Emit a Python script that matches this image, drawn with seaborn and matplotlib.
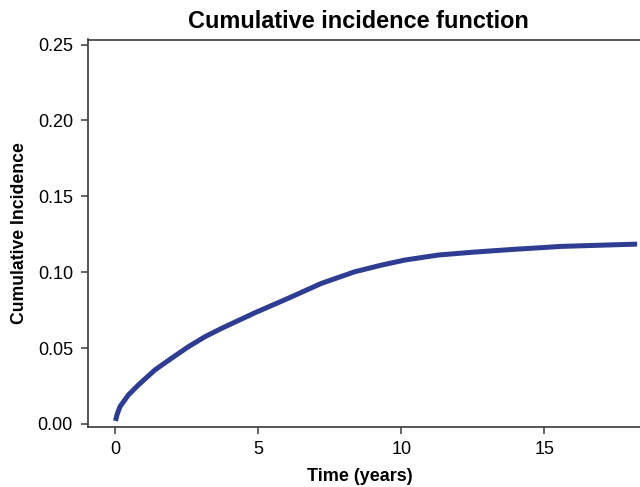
import seaborn as sns
import matplotlib
matplotlib.use("Agg")
import matplotlib.pyplot as plt
import pandas as pd

# values
time_years = [0.0, 0.06, 0.157, 0.45, 0.80, 1.38, 1.96, 2.55, 3.13, 3.71, 4.29, 4.88,
              6.04, 7.21, 8.37, 9.31, 10.12, 11.29, 12.45, 13.27, 13.9, 15.6, 18.24]
cum_incidence = [0.002, 0.0065, 0.0114, 0.0191, 0.0257, 0.0356, 0.0433, 0.0509, 0.0575, 0.0630, 0.0681, 0.0733,
                 0.0828, 0.0927, 0.1003, 0.1047, 0.1080, 0.1113, 0.1131, 0.1142, 0.1150, 0.1170, 0.1185]
y_ticks = [0.00, 0.05, 0.10, 0.15, 0.20, 0.25]
x_ticks = [0, 5, 10, 15]

sns.set_theme(style="ticks")
plt.rcParams['font.family'] = ['Liberation Sans', 'DejaVu Sans']
plt.rcParams['text.color'] = 'black'

df = pd.DataFrame({'Time': time_years, 'CIF': cum_incidence})

fig = plt.figure(figsize=(6.4, 4.87), dpi=100)
# axes box runs past the right edge, as in the cropped reference
ax = fig.add_axes([87.5 / 640, 60 / 487, (660 - 87.5) / 640, 387.5 / 487])

sns.lineplot(data=df, x='Time', y='CIF', ax=ax, color='#2E3D92', linewidth=3.6,
             estimator=None, sort=False, solid_joinstyle='round', solid_capstyle='butt')

ax.set_xlim(-0.979, 19.04)
ax.set_ylim(-0.002, 0.2533)
ax.set_xticks(x_ticks)
ax.set_yticks(y_ticks)
ax.set_xticklabels([str(t) for t in x_ticks])
ax.set_yticklabels([f'{t:.2f}' for t in y_ticks])
ax.set_xlabel('')
ax.set_ylabel('')

for side in ['left', 'bottom', 'top', 'right']:
    ax.spines[side].set_visible(True)
    ax.spines[side].set_color('#3a3a3a')
    ax.spines[side].set_linewidth(1.2)

ax.tick_params(axis='both', direction='out', length=5, width=1.1, color='#3a3a3a',
               labelsize=13, labelcolor='black')
ax.tick_params(axis='y', pad=5.5)
ax.tick_params(axis='x', pad=5)
ax.tick_params(top=False, right=False)

fig.text(358.5 / 640, (487 - 28.5) / 487, 'Cumulative incidence function',
         ha='center', va='baseline', fontsize=16.9, fontweight='bold', color='black')
fig.text(360 / 640, (487 - 481) / 487, 'Time (years)',
         ha='center', va='baseline', fontsize=13, fontweight='bold', color='black')
fig.text(19.5 / 640, (487 - 233.5) / 487, 'Cumulative Incidence',
         ha='center', va='center', rotation=90, fontsize=12.7, fontweight='bold', color='black')

fig.savefig('out.png', dpi=100)
